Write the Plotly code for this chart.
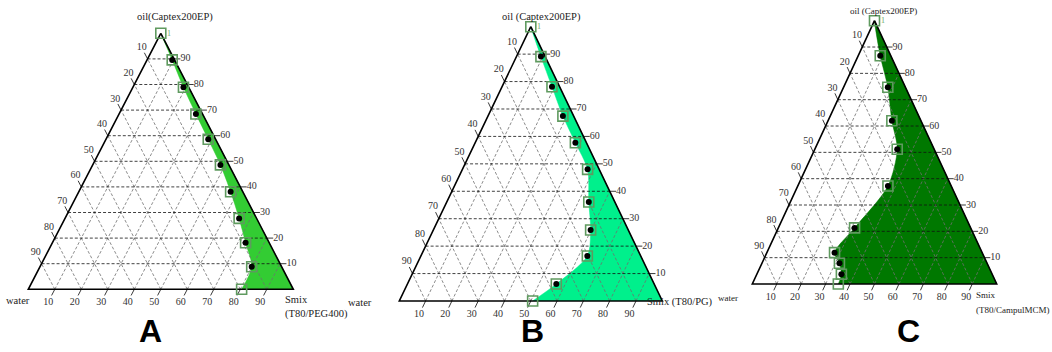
import plotly.graph_objects as go

FIG_W, FIG_H = 1052, 352

# ---------------- data: compositions (%); Smix = 100 - oil - water
oil_A = [100, 89.6, 78.9, 68.5, 58.6, 48.6, 38.1, 27.7, 18.2, 8.8, 0]
water_A = [0, 0.9, 2.0, 2.5, 2.8, 3.2, 4.6, 6.6, 8.9, 11.3, 19.5]

oil_B = [100, 89.1, 78.1, 67.4, 57.7, 48.0, 36.1, 25.9, 16.4, 6.2, 0]
water_B = [0, 1.6, 2.9, 4.1, 4.2, 4.4, 9.9, 14.3, 20.3, 37.2, 49.3]

oil_C = [100, 86.7, 74.7, 62.0, 51.2, 37.2, 21.3, 11.9, 7.9, 3.7, 0]
water_C = [0, 4.3, 7.2, 11.9, 15.1, 25.9, 47.5, 60.4, 60.4, 61.7, 64.8]

tick_values = [10, 20, 30, 40, 50, 60, 70, 80, 90]
tick_labels = [str(v) for v in tick_values]

panel_letters = ["A", "B", "C"]
oil_titles = ["oil(Captex200EP)", "oil (Captex200EP)", "oil (Captex200EP)"]
water_titles = ["water", "water", "water"]
smix_titles = [["Smix", "(T80/PEG400)"], ["Smix (T80/PG)"], ["Smix", "(T80/CampulMCM)"]]
fill_colors = ["#33cc33", "#00f08c", "#007800"]

# ---------------- layout geometry (pixels): triangle left, right, base, apex; panel x-span
panels = [
    dict(oil=oil_A, water=water_A, L=28.3, R=293.3, B=289.3, T=33.3, px=(0, 350),
         title_fs=10.5, oil_pos=(175, 17), water_pos=(17.5, 300),
         smix_pos=(282.7, 299), letter_x=150),
    dict(oil=oil_B, water=water_B, L=399.3, R=662.3, B=301.0, T=26.7, px=(350, 700),
         title_fs=10.5, oil_pos=(541.7, 16.7), water_pos=(360, 302),
         smix_pos=(645, 302), letter_x=532),
    dict(oil=oil_C, water=water_C, L=752.3, R=996.7, B=284.0, T=20.7, px=(700, 1052),
         title_fs=9, oil_pos=(883, 10.7), water_pos=(728, 297.7),
         smix_pos=(974, 295), letter_x=908),
]

SERIF = "Liberation Serif, Times New Roman, serif"
LABEL_COLOR = "#333333"


def txy(oil, water):
    """ternary (oil top, water bottom-left, Smix bottom-right) -> cartesian"""
    smix = 100 - oil - water
    return smix + oil / 2.0, oil


def seg_trace(segs, color, width, dash, xa, ya):
    xs, ys = [], []
    for (a, b) in segs:
        xs += [a[0], b[0], None]
        ys += [a[1], b[1], None]
    return go.Scatter(x=xs, y=ys, mode="lines", xaxis=xa, yaxis=ya, hoverinfo="skip",
                      line=dict(color=color, width=width, dash=dash))


fig = go.Figure()
layout = dict(width=FIG_W, height=FIG_H, margin=dict(l=0, r=0, t=0, b=0),
              paper_bgcolor="white", plot_bgcolor="white", showlegend=False)
annotations = []


def px_ann(text, x, y, size, xanchor="center", yanchor="middle", color="black",
           family=SERIF, bold=False):
    if bold:
        text = "<b>" + text + "</b>"
    annotations.append(dict(text=text, x=x / FIG_W, y=1 - y / FIG_H, xref="paper",
                            yref="paper", showarrow=False, xanchor=xanchor,
                            yanchor=yanchor, font=dict(size=size, color=color, family=family)))


for i, p in enumerate(panels):
    n = "" if i == 0 else str(i + 1)
    xa, ya = "x" + n, "y" + n
    w = p["R"] - p["L"]
    h = p["B"] - p["T"]
    x0, x1 = p["px"]
    layout["xaxis" + n] = dict(domain=[x0 / FIG_W, x1 / FIG_W],
                               range=[(x0 - p["L"]) / w * 100, (x1 - p["L"]) / w * 100],
                               visible=False, fixedrange=True, anchor=ya)
    layout["yaxis" + n] = dict(domain=[0, 1],
                               range=[(p["B"] - FIG_H) / h * 100, p["B"] / h * 100],
                               visible=False, fixedrange=True, anchor=xa)

    oil, water = p["oil"], p["water"]
    pts = [txy(o, wv) for o, wv in zip(oil, water)]

    # ---- one-phase (microemulsion) region
    poly = [txy(0, 0), txy(99, 0)] + pts
    fig.add_trace(go.Scatter(x=[q[0] for q in poly], y=[q[1] for q in poly], mode="lines",
                             fill="toself", fillcolor=fill_colors[i],
                             line=dict(color=fill_colors[i], width=0.5, shape="spline",
                                       smoothing=0.8),
                             xaxis=xa, yaxis=ya, hoverinfo="skip"))

    # ---- grid
    slanted = []
    for v in tick_values:
        slanted.append((txy(0, 100 - v), txy(100 - v, 0)))   # Smix = v
        slanted.append((txy(0, v), txy(100 - v, v)))         # water = v
    fig.add_trace(seg_trace(slanted, "#6e6e6e", 0.8, "3px,2px", xa, ya))
    horiz = [(txy(v, 100 - v), txy(v, 0)) for v in tick_values]
    fig.add_trace(seg_trace(horiz, "#111111", 0.8, "3px,2px", xa, ya))

    # ---- ticks
    tl = 2.4
    ticks = []
    for v in tick_values:
        e = txy(v, 0)
        ticks.append((e, (e[0] + tl, e[1])))                    # right: oil
        ticks.append((txy(100 - v, v), txy(100 - v + tl, v)))   # left: water
        ticks.append((txy(0, 100 - v), txy(-tl, 100 - v + tl)))  # bottom: Smix
    fig.add_trace(seg_trace(ticks, "#222222", 0.9, "solid", xa, ya))

    # ---- outline
    tri = [txy(100, 0), txy(0, 100), txy(0, 0), txy(100, 0)]
    fig.add_trace(go.Scatter(x=[q[0] for q in tri], y=[q[1] for q in tri], mode="lines",
                             line=dict(color="black", width=1.6), xaxis=xa, yaxis=ya,
                             hoverinfo="skip"))

    # ---- tick labels
    lx, ly, lt = [], [], []
    for v, t in zip(tick_values, tick_labels):
        q = txy(100 - v + 4.3, v)
        lx.append(q[0]); ly.append(q[1]); lt.append(t)
        q = txy(-5.0, 100 - v + 5.0)
        lx.append(q[0]); ly.append(q[1]); lt.append(t)
    fig.add_trace(go.Scatter(x=lx, y=ly, text=lt, mode="text", textposition="middle center",
                             textfont=dict(family=SERIF, size=10, color=LABEL_COLOR),
                             cliponaxis=False, xaxis=xa, yaxis=ya, hoverinfo="skip"))
    rx = [txy(v, 0)[0] + tl for v in tick_values]
    fig.add_trace(go.Scatter(x=rx, y=tick_values, text=tick_labels, mode="text",
                             textposition="middle right",
                             textfont=dict(family=SERIF, size=10, color=LABEL_COLOR),
                             cliponaxis=False, xaxis=xa, yaxis=ya, hoverinfo="skip"))

    # ---- experimental points
    fig.add_trace(go.Scatter(x=[q[0] for q in pts], y=[q[1] for q in pts], mode="markers",
                             marker=dict(symbol="square-open", size=10, color="#5f9a5f",
                                         line=dict(width=1.6, color="#5f9a5f")),
                             cliponaxis=False, xaxis=xa, yaxis=ya, hoverinfo="skip"))
    inner = pts[1:-1]
    fig.add_trace(go.Scatter(x=[q[0] for q in inner], y=[q[1] for q in inner], mode="markers",
                             marker=dict(symbol="circle", size=6, color="black"),
                             cliponaxis=False, xaxis=xa, yaxis=ya, hoverinfo="skip"))
    ax = txy(100, 0)
    annotations.append(dict(text="1", x=ax[0], y=ax[1], xref=xa, yref=ya, showarrow=False,
                            xshift=8, font=dict(size=8, color="#6aa86a", family=SERIF)))

    # ---- titles
    fs = p["title_fs"]
    px_ann(oil_titles[i], p["oil_pos"][0], p["oil_pos"][1], fs, color="#222222")
    px_ann(water_titles[i], p["water_pos"][0], p["water_pos"][1], fs, color="#222222")
    sx, sy = p["smix_pos"]
    for k, line in enumerate(smix_titles[i]):
        px_ann(line, sx, sy + k * 14.5, fs, xanchor="left", color="#222222")
    px_ann(panel_letters[i], p["letter_x"], 351, 32, yanchor="bottom",
           family="Arial, Liberation Sans, sans-serif", bold=True)

layout["annotations"] = annotations
fig.update_layout(**layout)
fig.write_html("out.html")
